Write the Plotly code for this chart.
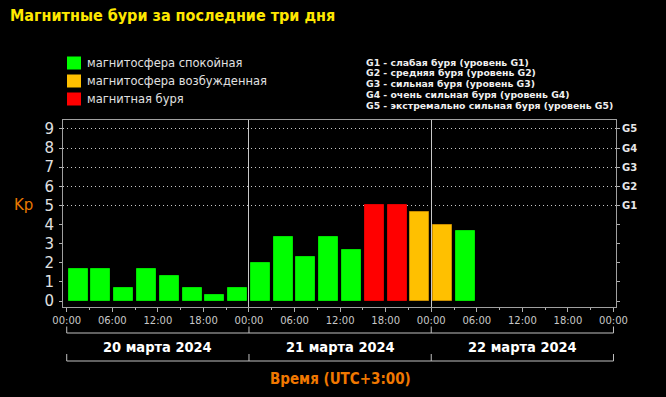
import plotly.graph_objects as go

# ---------------- data ----------------
bin_centers_h = [1.5, 4.5, 7.5, 10.5, 13.5, 16.5, 19.5, 22.5,
                 25.5, 28.5, 31.5, 34.5, 37.5, 40.5, 43.5, 46.5,
                 49.5, 52.5]
kp_values = [1.67, 1.67, 0.67, 1.67, 1.33, 0.67, 0.33, 0.67,
             2.00, 3.33, 2.33, 3.33, 2.67, 5.00, 5.00, 4.67,
             4.00, 3.67]
day_labels = ["20 марта 2024", "21 марта 2024", "22 марта 2024"]
day_bounds_h = [0, 24, 48, 72]
time_tick_vals = [0, 6, 12, 18, 24, 30, 36, 42, 48, 54, 60, 66, 72]
time_tick_text = ["00:00", "06:00", "12:00", "18:00"] * 3 + ["00:00"]
kp_ticks = [0, 1, 2, 3, 4, 5, 6, 7, 8, 9]
g_ticks = [5, 6, 7, 8, 9]
g_labels = ["G1", "G2", "G3", "G4", "G5"]
status_names = ["магнитосфера спокойная", "магнитосфера возбужденная", "магнитная буря"]
status_colors = ["#00FF00", "#FFC000", "#FF0000"]
status_edges = ["#00E000", "#C88C00", "#E00000"]
g_legend = ["G1 - слабая буря (уровень G1)",
            "G2 - средняя буря (уровень G2)",
            "G3 - сильная буря (уровень G3)",
            "G4 - очень сильная буря (уровень G4)",
            "G5 - экстремально сильная буря (уровень G5)"]
title_text = "Магнитные бури за последние три дня"
xaxis_title = "Время (UTC+3:00)"

# ---------------- geometry ----------------
WIDTH, HEIGHT = 666, 397
L, R, T, B = 63, 50, 120, 90
PW = WIDTH - L - R
PH = HEIGHT - T - B


def px_x(px):
    return (px - L) / PW


def px_y(py):
    return (T + PH - py) / PH


def status_of(v):
    if v >= 5:
        return 2
    if v >= 4:
        return 1
    return 0


fig = go.Figure()
for s in range(3):
    xs = [x for x, v in zip(bin_centers_h, kp_values) if status_of(v) == s]
    ys = [v for v in kp_values if status_of(v) == s]
    fig.add_trace(go.Bar(
        x=xs, y=ys, width=2.5, name=status_names[s],
        marker=dict(color=status_colors[s], line=dict(color=status_edges[s], width=1)),
        showlegend=False, xaxis="x", yaxis="y",
    ))

# invisible traces to anchor overlay axes
fig.add_trace(go.Scatter(x=[day_bounds_h[0]], y=[0], xaxis="x2", yaxis="y3",
                         mode="markers", marker=dict(opacity=0), showlegend=False,
                         hoverinfo="skip"))
fig.add_trace(go.Scatter(x=[day_bounds_h[0]], y=[0], xaxis="x", yaxis="y2",
                         mode="markers", marker=dict(opacity=0), showlegend=False,
                         hoverinfo="skip"))

xr = [-0.49, 72.33]
yr = [-0.31, 9.47]
axis_font = dict(family="DejaVu Sans, Verdana, sans-serif", size=10, color="#C8C8C8")

fig.update_layout(
    width=WIDTH, height=HEIGHT,
    margin=dict(l=L, r=R, t=T, b=B, pad=0),
    paper_bgcolor="black", plot_bgcolor="black",
    bargap=0,
    showlegend=False,
    xaxis=dict(range=xr, tickmode="array", tickvals=time_tick_vals, ticktext=time_tick_text,
               ticks="outside", ticklen=4, tickcolor="#B0B0B0", tickfont=axis_font,
               showgrid=False, zeroline=False, showline=True, linecolor="#A0A0A0",
               linewidth=1, mirror=True, fixedrange=True, automargin=False,
               minor=dict(tickmode="linear", tick0=0, dtick=3, ticks="outside",
                          ticklen=2, tickcolor="#B0B0B0", showgrid=False)),
    xaxis2=dict(range=xr, overlaying="x", tickmode="array", tickvals=day_bounds_h[1:3],
                showticklabels=False, ticks="", showgrid=True, gridcolor="#C8C8C8",
                gridwidth=1, zeroline=False, showline=False),
    yaxis=dict(range=yr, tickmode="array", tickvals=kp_ticks, ticks="outside", ticklen=3,
               tickcolor="#B0B0B0", automargin=False, ticklabelstandoff=2,
               tickfont=dict(family="DejaVu Sans, Verdana, sans-serif", size=15, color="#E0E0E0"),
               showgrid=False, zeroline=False, showline=True, linecolor="#A0A0A0",
               mirror=True, fixedrange=True),
    yaxis2=dict(range=yr, overlaying="y", side="right", tickmode="array",
                tickvals=kp_ticks, automargin=False,
                ticktext=["", "", "", "", ""] + g_labels,
                ticks="outside", ticklen=3, tickcolor="#B0B0B0",
                tickfont=dict(family="DejaVu Sans, Verdana, sans-serif", size=10, color="#E8E8E8",
                              weight="bold"),
                showgrid=False, zeroline=False, showline=False),
    yaxis3=dict(range=yr, overlaying="y", tickmode="array", tickvals=g_ticks,
                showticklabels=False, ticks="", showgrid=True, gridcolor="#C8C8C8",
                griddash="1px,3px", gridwidth=1, zeroline=False, showline=False),
)

shapes = []
ann = []

# title
ann.append(dict(text=title_text, xref="paper", yref="paper", x=px_x(8), y=px_y(15),
                xanchor="left", yanchor="middle", showarrow=False,
                font=dict(family="Liberation Sans Narrow, DejaVu Sans Condensed, Arial Narrow, sans-serif",
                          size=16, color="#FFE800", weight="bold")))

# status legend
leg_y = [63, 81, 99]
for s in range(3):
    cy = leg_y[s]
    shapes.append(dict(type="rect", xref="paper", yref="paper",
                       x0=px_x(67), x1=px_x(81), y0=px_y(cy - 6.5), y1=px_y(cy + 6.5),
                       fillcolor=status_colors[s], line=dict(width=0)))
    ann.append(dict(text=status_names[s], xref="paper", yref="paper", x=px_x(85), y=px_y(cy),
                    xanchor="left", yanchor="middle", showarrow=False,
                    font=dict(family="DejaVu Sans, Verdana, sans-serif", size=11.5, color="#E0E0E0")))

# G legend
g_leg_y = [62, 72.5, 83.5, 95, 106]
for line, cy in zip(g_legend, g_leg_y):
    ann.append(dict(text=line, xref="paper", yref="paper", x=px_x(364), y=px_y(cy),
                    xanchor="left", yanchor="middle", align="left", showarrow=False,
                    font=dict(family="DejaVu Sans, Verdana, sans-serif", size=9.3, color="#F0F0F0",
                              weight="bold")))

# Kp label
ann.append(dict(text="Kp", xref="paper", yref="y", x=px_x(23), y=5, xanchor="center",
                yanchor="middle", showarrow=False,
                font=dict(family="DejaVu Sans, Verdana, sans-serif", size=15, color="#E87800")))

# day brackets
bc = "#C0C0C0"
for (ytop, ybot) in [(326.5, 333), (354, 361)]:
    shapes.append(dict(type="line", xref="x", yref="paper", x0=day_bounds_h[0], x1=day_bounds_h[-1],
                       y0=px_y(ybot), y1=px_y(ybot), line=dict(color=bc, width=1)))
    for d in day_bounds_h:
        shapes.append(dict(type="line", xref="x", yref="paper", x0=d, x1=d,
                           y0=px_y(ytop), y1=px_y(ybot), line=dict(color=bc, width=1)))
for i, lab in enumerate(day_labels):
    ann.append(dict(text=lab, xref="x", yref="paper",
                    x=(day_bounds_h[i] + day_bounds_h[i + 1]) / 2, y=px_y(347),
                    xanchor="center", yanchor="middle", showarrow=False,
                    font=dict(family="DejaVu Sans Condensed, Liberation Sans Narrow, sans-serif",
                              size=14.5, color="#FFFFFF", weight="bold")))

ann.append(dict(text=xaxis_title, xref="x", yref="paper", x=36, y=px_y(379),
                xanchor="center", yanchor="middle", showarrow=False,
                font=dict(family="DejaVu Sans Condensed, Liberation Sans Narrow, sans-serif",
                          size=15, color="#F07800", weight="bold")))

fig.update_layout(shapes=shapes, annotations=ann)
fig.write_html("out.html", config={"displayModeBar": False},
               post_script="document.body.style.margin='0';document.body.style.overflow='hidden';")
